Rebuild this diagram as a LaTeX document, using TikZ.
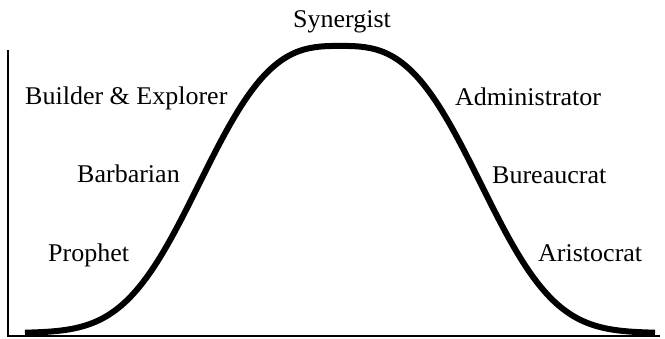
\documentclass[tikz,border=0pt]{standalone}
\usepackage{fontspec}
\setmainfont[FakeStretch=1.02]{Liberation Serif}
\tikzset{
  lbl/.style={font=\fontsize{25.5}{30}\selectfont, inner sep=0pt, anchor=base west},
  axis/.style={line width=2pt},
  bell/.style={line width=6pt, line cap=butt}
}
\begin{document}
\begin{tikzpicture}[x=1pt,y=-1pt]
\useasboundingbox (0,0) rectangle (665,339);
\draw[axis] (8,50) -- (8,336) -- (660,336);
\draw[bell] plot[domain=25:655, samples=240] (\x, {333-287*exp(-(abs(\x-340)/163)^2.9)});
\node[lbl, anchor=base] (syn) at (342,28) {Synergist};
\node[lbl] (bui) at (25,105) {Builder \& Explorer};
\node[lbl] (bar) at (77,183) {Barbarian};
\node[lbl] (pro) at (48,262) {Prophet};
\node[lbl] (adm) at (455,106) {Administrator};
\node[lbl] (bur) at (492,184) {Bureaucrat};
\node[lbl] (ari) at (538,262) {Aristocrat};
\end{tikzpicture}
\end{document}
